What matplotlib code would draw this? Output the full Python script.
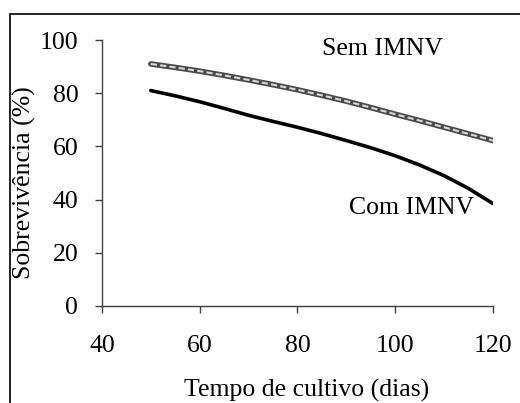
import matplotlib.pyplot as plt
from matplotlib.patches import Rectangle

# dados
dias = [50, 55, 60, 65, 70, 75, 80, 85, 90, 95, 100, 105, 110, 115, 120]
sem_imnv = [91.0, 89.7, 88.3, 86.7, 85.0, 83.2, 81.3, 79.2, 77.0, 74.6,
            72.1, 69.7, 67.2, 64.7, 62.2]
com_imnv = [81.0, 79.0, 76.8, 74.3, 71.7, 69.4, 67.2, 64.8, 62.2, 59.5,
            56.5, 53.0, 49.0, 44.2, 38.5]

x_ticks = [40, 60, 80, 100, 120]
y_ticks = [0, 20, 40, 60, 80, 100]

plt.rcParams["font.family"] = ["Liberation Serif", "DejaVu Serif"]

fig = plt.figure(figsize=(5.2, 4.03), dpi=100)
ax = fig.add_axes([0.196, 0.2407, 0.752, 0.66])

# linha dupla (Sem IMNV)
ax.plot(dias, sem_imnv, color="#4a4a4a", lw=4.0, solid_capstyle="round",
        solid_joinstyle="round")
ax.plot(dias, sem_imnv, color="#d8d8d8", lw=1.5, linestyle=(0, (3, 1.5)))
ax.plot(dias, com_imnv, color="black", lw=2.6, solid_capstyle="round",
        solid_joinstyle="round")

ax.text(97.3, 96.8, "Sem IMNV", fontsize=18.5, ha="center", va="center")
ax.text(103.4, 36.8, "Com IMNV", fontsize=18.5, ha="center", va="center")

ax.set_xlim(40, 120)
ax.set_ylim(0, 100)
ax.set_xticks(x_ticks)
ax.set_yticks(y_ticks)
ax.tick_params(axis="both", direction="out", length=5, width=1, color="#404040",
               labelsize=18.5)
ax.tick_params(axis="x", pad=16)
ax.tick_params(axis="y", pad=12)
for s in ["top", "right"]:
    ax.spines[s].set_visible(False)
for s in ["left", "bottom"]:
    ax.spines[s].set_color("#404040")
    ax.spines[s].set_linewidth(1)

fig.text(24 / 520, 1 - 183 / 403, "Sobrevivência (%)", rotation=90,
         fontsize=18.5, ha="center", va="center")
fig.text(307 / 520, 1 - 390 / 403, "Tempo de cultivo (dias)",
         fontsize=18.5, ha="center", va="center")

# moldura
fig.patches.append(Rectangle((10 / 520, -0.1), 1.2, 1 - 13.5 / 403 + 0.1,
                             transform=fig.transFigure, fill=False,
                             edgecolor="black", lw=1.2))

fig.savefig("out.png", dpi=100)
